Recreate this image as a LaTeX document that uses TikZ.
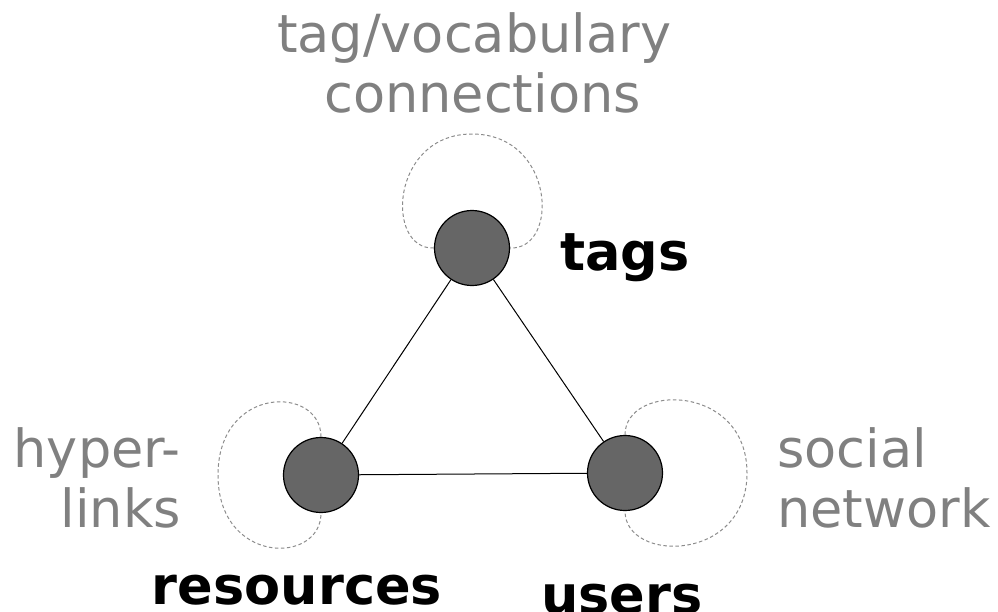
\documentclass[tikz,border=0pt]{standalone}
\usepackage{fontspec}
\setmainfont{DejaVu Sans}
\usepackage{tikz}
\definecolor{vertexgray}{RGB}{102,102,102}
\definecolor{loopgray}{RGB}{140,140,140}
\definecolor{textgray}{RGB}{128,128,128}

\begin{document}
\begin{tikzpicture}[x=1pt, y=-1pt,
    vertex/.style={circle, draw=black, line width=1.2pt, fill=vertexgray, minimum size=75pt, inner sep=0pt},
    edge/.style={draw=black, line width=1pt},
    selfloop/.style={draw=loopgray, line width=1pt, dash pattern=on 3.5pt off 2.5pt},
    typelabel/.style={font=\fontsize{52.5}{60}\selectfont\bfseries, text=black, inner sep=0pt},
    relabel/.style={font=\fontsize{52.5}{60}\selectfont, text=textgray, inner sep=0pt}]
    \useasboundingbox (0,0) rectangle (998,611);
    % Nodes
    \node[vertex] (tags) at (472,248) {};
    \node[vertex] (resources) at (321,475) {};
    \node[vertex] (users) at (625,473) {};
    % Edges
    \draw[edge] (tags) -- (resources);
    \draw[edge] (tags) -- (users);
    \draw[edge] (resources) -- (users);
    % Loops
    \draw[selfloop] (tags.west) .. controls (385,250) and (390,134) .. (472,134)
        .. controls (555,134) and (560,250) .. (tags.east);
    \draw[selfloop] (resources.north) .. controls (321,385) and (218,385) .. (218,475)
        .. controls (218,565) and (321,565) .. (resources.south);
    \draw[selfloop] (users.north) .. controls (625,383) and (747,383) .. (747,473)
        .. controls (747,563) and (625,563) .. (users.south);
    % Labels
    \node[typelabel, anchor=base west] (tagsname) at (560,270) {tags};
    \node[typelabel, anchor=base] (resname) at (297,604) {resources};
    \node[typelabel, anchor=base] (usersname) at (622,613) {users};
    \node[relabel, anchor=base, align=center] (vocab) at (474,112) {tag/vocabulary\\\hspace*{17pt}connections};
    \node[relabel, anchor=base east, align=right] (hyper) at (181,527) {hyper-\\links};
    \node[relabel, anchor=base west, align=left] (social) at (777,527) {social\\network};
\end{tikzpicture}
\end{document}
